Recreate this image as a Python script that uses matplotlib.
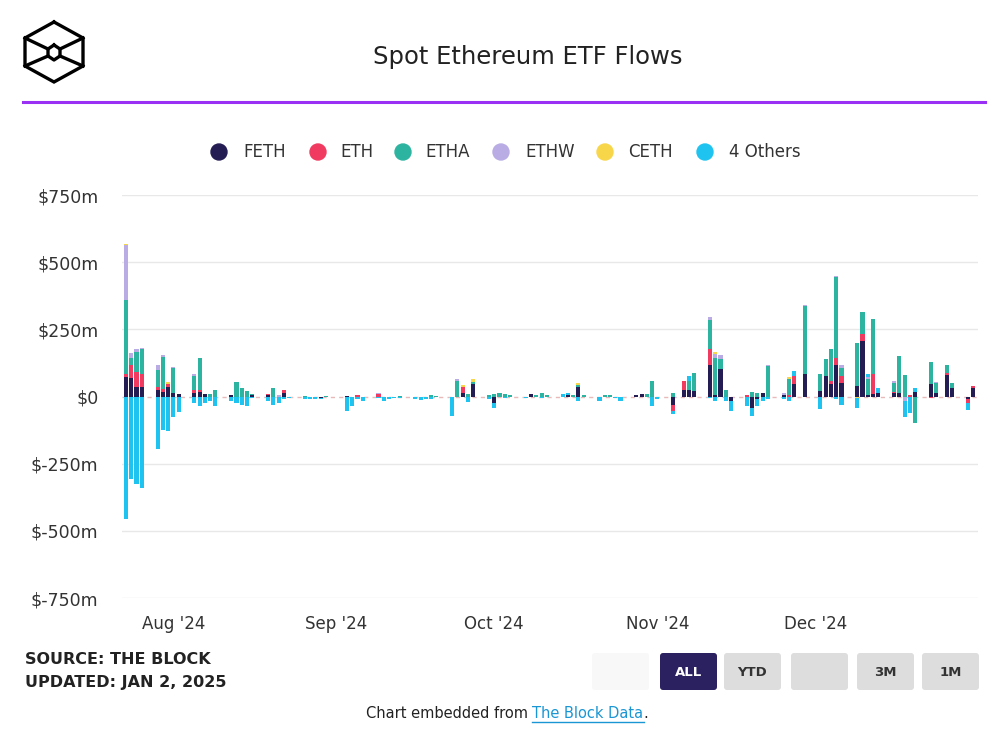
import matplotlib
matplotlib.use('Agg')
import matplotlib.pyplot as plt
import matplotlib.patches as mpatches
import matplotlib.dates as mdates
import numpy as np
import pandas as pd

# trading days shown in the chart (US market holidays skipped)
holidays = ['2024-09-02', '2024-11-28', '2024-12-25']
dates = pd.bdate_range('2024-07-23', '2024-12-31', freq='C', holidays=holidays)

# daily net flows, $m (Jul / Aug / Sep / Oct / Nov / Dec)
feth = [73, 67, 36, 34, 26, 17, 36,
        14, 11, 14, 17, 9, 0, 0, 7, 0, 0, 0, 4, 5, 0, 0, 12, 0, 0, 0, 0, -5, 0,
        3, 0, 0, 0, 0, 0, 0, 0, 0, 0, 0, 0, 0, 0, 0, 0, 12, 0, 45, 0,
        -24, 0, 0, 0, 0, 8, 0, 0, 0, 0, 5, 0, 35, 0, 0, 0, 0, 0, 0, 5, 8, 0, 0,
        0, -31, 0, 26, 26, 20, 118, 5, 101, 0, -17, 0, -42, -11, 12, 0, 5, 0, 45, 82,
        20, 76, 45, 116, 51, 38, 206, 5, 10, 12, 14, 14, 0, 0, 16, 45, 12, 80, 32, -11, 30]
eth = [12, 50, 56, 50, 10, 12, 9,
       0, 0, 12, 9, 0, 0, 0, 0, 0, 0, 0, 0, 6, 0, 0, 13, 0, 0, 0, 0, 0, 0,
       0, 0, 4, 0, 8, 0, 0, 0, 0, 0, 0, 0, 0, 0, 0, 0, 22, 0, 0, 0,
       0, 0, 0, 0, 0, 0, 0, 0, 0, 0, 0, 0, 0, 0, 0, 0, 0, 0, 0, 0, 3, 0, 0,
       0, -22, 0, 31, 0, 0, 58, 0, 0, 0, 0, 5, 0, 0, 0, 0, 0, 5, 31, 0,
       0, 0, 12, 29, 25, 0, 25, 0, 72, 0, 3, 0, 0, 5, 0, -5, 0, 8, 0, -15, 8]
etha = [273, 25, 75, 91, 62, 118, 0,
        91, 0, 50, 116, 0, 11, 26, 0, 53, 32, 20, 5, 0, 32, 0, 0, 0, 3, 0, 0, 0, 2,
        0, 0, 0, 0, 0, 0, 0, 0, 3, 0, 0, 0, 5, 3, 0, 59, 0, 8, 10, 5,
        10, 12, 8, 6, 0, 0, 5, 12, 5, 0, 0, 6, 8, 4, 0, 5, 5, 0, 0, 0, 0, 8, 57,
        0, 12, 0, 0, 31, 68, 109, 140, 37, 26, 0, 0, 17, 12, 0, 113, 0, 60, 0, 255,
        62, 65, 118, 298, 31, 162, 83, 60, 205, 0, 33, 135, 80, 0, -98, 85, 37, 28, 19, 0, 0]
ethw = [205, 21, 9, 6, 19, 6, 0,
        6, 0, 7, 0, 0, 0, 0, 0, 0, 0, 0, 0, 0, 0, 5, 0, 0, 0, 0, 0, 0, 0,
        0, 0, 0, 0, 6, 0, 0, 0, 0, 0, 0, 0, 0, 0, 0, 7, 0, 0, 0, 0,
        0, 0, 0, 0, 0, 0, 0, 0, 0, 0, 0, 0, 0, 0, 0, 0, 0, 0, 0, 0, 0, 3, 0,
        0, 0, 0, 0, 0, 0, 12, 12, 15, 0, 0, 0, 0, 0, 0, 4, 8, 0, 0, 4,
        0, 0, 0, 6, 12, 0, 0, 8, 0, 0, 9, 0, -18, 0, 0, 0, 5, 3, 0, 0, 0]
ceth = [6, 0, 0, 0, 0, 0, 10,
        0, 0, 0, 0, 0, 0, 0, 0, 0, 0, 0, 0, 0, 0, 0, 0, 0, 0, 0, 0, 0, 0,
        0, 0, 0, 0, 0, 0, 0, 0, 0, 0, 0, 0, 0, 0, 0, 0, 10, 0, 11, 0,
        0, 0, 0, 0, 0, 0, 0, 0, 0, 0, 0, 0, 8, 0, 0, 0, 0, 0, 0, 0, 0, 0, 0,
        0, 0, 0, 0, 0, 0, 0, 8, 0, 0, 0, 0, 0, 0, 0, 0, 0, 6, 0, 0,
        0, 0, 0, 0, 0, -4, 0, 0, 0, 0, 0, 0, 0, 0, 0, 0, 0, 0, 0, 0, 0]
others = [-455, -306, -327, -340, -194, -126, -129,
          -76, -57, -24, -36, -26, -15, -36, -17, -24, -30, -36, -6, -15, -30, -24, -11, -5, -8, -8, -8, -4, -3,
          -55, -36, -10, -15, -4, -17, -10, -6, -5, -10, -12, -10, -8, 0, -73, 0, 0, -22, 0, -10,
          -18, 0, -4, 0, -5, 0, 0, -5, 0, 8, 8, 0, -15, 0, -17, 0, -3, -5, -17, 0, 0, 0, -36,
          -8, -12, 0, 0, 21, 0, -6, -17, 0, -17, -37, -36, -31, -24, -17, -11, -10, -17, 19, 0,
          -48, 0, 0, -11, -30, -38, 0, 12, 0, 20, 0, 0, -60, -61, 16, 0, 0, 0, 0, -23, 0]

names = ['FETH', 'ETH', 'ETHA', 'ETHW', 'CETH', '4 Others']
colors = ['#241d54', '#f03a5f', '#2db4a0', '#b9ace4', '#f8d64a', '#1fc3f0']
month_ticks = ['2024-08-01', '2024-09-01', '2024-10-01', '2024-11-01', '2024-12-01']
month_labels = ["Aug '24", "Sep '24", "Oct '24", "Nov '24", "Dec '24"]
y_ticks = [-750, -500, -250, 0, 250, 500, 750]
y_labels = ['$-750m', '$-500m', '$-250m', '$0', '$250m', '$500m', '$750m']

fig = plt.figure(figsize=(10, 7.34), dpi=100)

# decoration layer in pixel coordinates
deco = fig.add_axes([0, 0, 1, 1])
deco.set_xlim(0, 1000)
deco.set_ylim(734, 0)
deco.axis('off')

# chart area
ax = fig.add_axes([0.122, 1 - 598 / 734, 0.856, (598 - 195) / 734])
xs = mdates.date2num(dates)

pos_base = np.zeros(len(xs))
neg_base = np.zeros(len(xs))
for vals, color in zip([feth, eth, etha, ethw, ceth, others], colors):
    v = np.array(vals, dtype=float)
    bottom = np.where(v >= 0, pos_base, neg_base)
    ax.bar(xs, v, width=0.78, bottom=bottom, color=color, linewidth=0, zorder=3)
    pos_base += np.clip(v, 0, None)
    neg_base += np.clip(v, None, 0)

ax.set_xlim(xs[0] - 0.76, xs[-1] + 0.95)
ax.set_ylim(-750, 750)
for y in y_ticks:
    if y == 0:
        ax.axhline(0, color='#e9b9b9', lw=1, ls=(0, (3, 3)), zorder=2)
    else:
        ax.axhline(y, color='#e8e8e8', lw=1, zorder=1)
ax.set_yticks(y_ticks)
ax.set_yticklabels(y_labels, fontsize=12.5, color='#333333')
ax.set_xticks(mdates.date2num(pd.to_datetime(month_ticks)))
ax.set_xticklabels(month_labels, fontsize=12, color='#333333')
ax.tick_params(axis='y', length=0, pad=17)
ax.tick_params(axis='x', length=0, pad=12)
for s in ax.spines.values():
    s.set_visible(False)

# logo
hexa = [(54, 22), (83, 38), (83, 66), (54, 82), (25, 66), (25, 38), (54, 22)]
deco.plot(*zip(*hexa), color='black', lw=2.4, solid_joinstyle='miter')
inner = [(54, 45), (60, 49), (60, 56), (54, 60), (48, 56), (48, 49), (54, 45)]
deco.plot(*zip(*inner), color='black', lw=2.4)
for a, b in [((25, 38), (48, 49)), ((83, 38), (60, 49)), ((25, 66), (48, 56)), ((83, 66), (60, 56))]:
    deco.plot([a[0], b[0]], [a[1], b[1]], color='black', lw=2.4)

# title and rule
deco.text(528, 57, 'Spot Ethereum ETF Flows', fontsize=17.5, color='#222222',
          ha='center', va='center')
deco.plot([23, 985], [102, 102], color='#9b30f5', lw=2.2)

# legend
circle_x = [219, 318, 403, 501, 605, 705]
label_x = [243, 340, 425, 525, 628, 729]
for cx, lx, name, color in zip(circle_x, label_x, names, colors):
    deco.add_patch(mpatches.Circle((cx, 152), 8, color=color))
    deco.text(lx, 152, name, fontsize=12, color='#333333', ha='left', va='center')

# source text
deco.text(25, 660, 'SOURCE: THE BLOCK', fontsize=11.5, fontweight='bold',
          color='#222222', ha='left', va='center')
deco.text(25, 682, 'UPDATED: JAN 2, 2025', fontsize=11.5, fontweight='bold',
          color='#222222', ha='left', va='center')

# range buttons
buttons = [('', 592, '#f8f8f8', '#333333'), ('ALL', 660, '#2b2161', 'white'),
           ('YTD', 724, '#dddddd', '#333333'), ('', 791, '#dddddd', '#333333'),
           ('3M', 857, '#dddddd', '#333333'), ('1M', 922, '#dddddd', '#333333')]
for label, bx, fc, tc in buttons:
    deco.add_patch(mpatches.FancyBboxPatch((bx, 653), 57, 37,
                                           boxstyle='round,pad=0,rounding_size=3',
                                           fc=fc, ec='none'))
    if label:
        deco.text(bx + 28.5, 672, label, fontsize=9.5, fontweight='bold',
                  color=tc, ha='center', va='center')

# footer
renderer = fig.canvas.get_renderer()
t1 = deco.text(0, 714, 'Chart embedded from ', fontsize=10.5, color='#222222',
               ha='left', va='center')
t2 = deco.text(0, 714, 'The Block Data', fontsize=10.5, color='#1a96d4',
               ha='left', va='center')
t3 = deco.text(0, 714, '.', fontsize=10.5, color='#222222', ha='left', va='center')
w1 = t1.get_window_extent(renderer).width
w2 = t2.get_window_extent(renderer).width
w3 = t3.get_window_extent(renderer).width
x0 = 507 - (w1 + w2 + w3) / 2
t1.set_x(x0)
t2.set_x(x0 + w1)
t3.set_x(x0 + w1 + w2)
deco.plot([x0 + w1, x0 + w1 + w2], [722, 722], color='#1a96d4', lw=1)

fig.savefig('out.png', dpi=100)
